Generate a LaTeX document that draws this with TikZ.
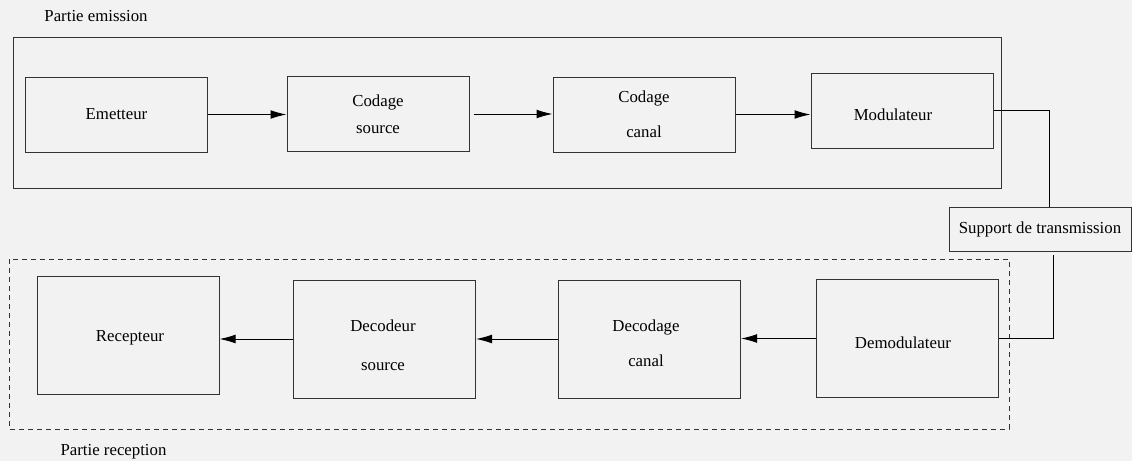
\documentclass[tikz,border=0pt]{standalone}
\usepackage{fontspec}
\setmainfont{Liberation Serif}
\usetikzlibrary{arrows.meta}
\definecolor{bgrey}{HTML}{F2F2F2}
\definecolor{lgrey}{HTML}{333333}
\tikzset{txt/.style = {inner sep=0, align=center, font=\fontsize{8.4}{10}\selectfont}}
\tikzset{blk/.style = {txt, draw=lgrey, line width=0.5pt, minimum width=91pt, minimum height=37.5pt}}
\tikzset{tallblk/.style = {blk, minimum height=59pt}}
\tikzset{flow/.style = {line width=0.5pt, -{Latex[length=8pt,width=4.4pt]}}}

\begin{document}
\begin{tikzpicture}[x=0.5pt, y=-0.5pt]
      \fill [bgrey] (0, 0) rectangle (1132, 461);

      \draw [lgrey, line width=0.5pt] (13, 37) rectangle (1001, 188);
      \draw [lgrey, line width=0.5pt, dash pattern=on 2.5pt off 2pt] (9, 259) rectangle (1009, 429);
      \node [txt] (emission) at (96, 16) {Partie emission};
      \node [txt] (reception) at (113.5, 452) {Partie reception};

      \node [blk] (emetteur) at (116.5, 114.5) {Emetteur};
      \node [blk] (codsrc) at (378, 114) {Codage\\[3.5pt]source};
      \node [blk] (codcan) at (644, 114.5) {Codage\\[7.5pt]canal};
      \node [blk, label={[txt, xshift=-4.5pt, yshift=-2.25pt]center:Modulateur}] (modul) at (902, 110.5) {};

      \node [blk, minimum height=22pt] (support) at (1040, 229) {Support de transmission};

      \node [tallblk, label={[txt, xshift=-2pt, yshift=-2.25pt]center:Demodulateur}] (demodul) at (907, 338.5) {};
      \node [tallblk, label={[txt, xshift=-1.75pt, yshift=-2.25pt]center:{Decodage\\[7.5pt]canal}}] (decan) at (649.5, 339) {};
      \node [tallblk, label={[txt, xshift=-0.75pt, yshift=-3.25pt]center:{Decodeur\\[9.5pt]source}}] (desrc) at (384.5, 339) {};
      \node [tallblk, label={[txt, xshift=1pt, yshift=-1.5pt]center:Recepteur}] (recepteur) at (128, 335) {};

      \draw [flow] (emetteur.east) -- (emetteur.east -| codsrc.west);
      \draw [flow] ([xshift=2pt]codsrc.east) -- (codsrc.east -| codcan.west);
      \draw [flow] (codcan.east) -- (codcan.east -| modul.west);

      \coordinate (toptap) at (1049, 207);
      \coordinate (bottap) at (1053, 255);
      \draw [line width=0.5pt] (modul.east) -| (toptap);
      \draw [line width=0.5pt] (bottap) |- (demodul.east);

      \draw [flow] (demodul.west) -- (demodul.west -| decan.east);
      \draw [flow] (decan.west) -- (decan.west -| desrc.east);
      \draw [flow] (desrc.west) -- (desrc.west -| recepteur.east);

    \end{tikzpicture}
\end{document}
